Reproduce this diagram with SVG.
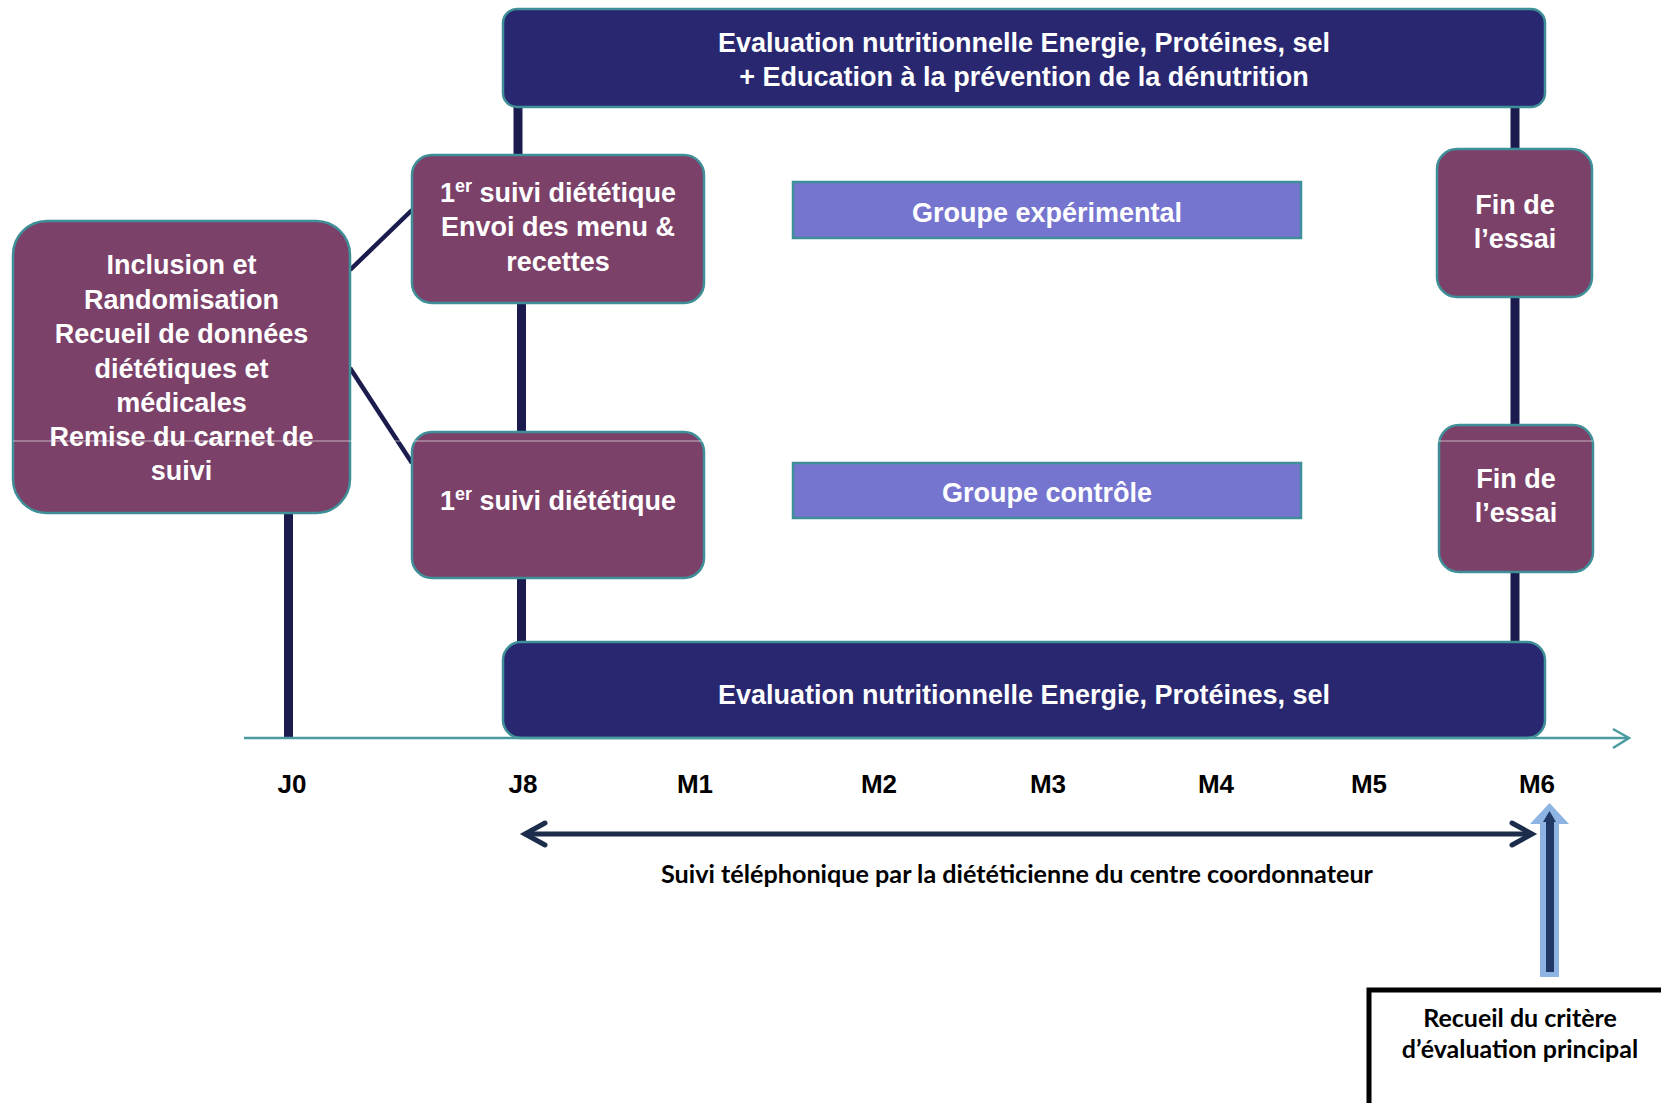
<svg xmlns="http://www.w3.org/2000/svg" width="1661" height="1103" viewBox="0 0 1661 1103">
<style>
.box{fill:#7b4169;stroke:#3f8f98;stroke-width:2.5}
.bar{fill:#282770;stroke:#3f8f98;stroke-width:2.5}
.grp{fill:#7575d0;stroke:#3f8f98;stroke-width:2.5}
.w{font-family:"Liberation Sans",Arial,sans-serif;font-weight:bold;font-size:27px;fill:#ffffff;text-anchor:middle}
.t{font-family:"Liberation Sans",Arial,sans-serif;font-weight:bold;font-size:26px;fill:#000000;text-anchor:middle}
.c{font-family:Lato,"Open Sans",sans-serif;font-weight:bold;font-size:25px;fill:#000000;text-anchor:middle}
.v{stroke:#1b1b4d;stroke-width:9;fill:none}
.d{stroke:#1b1b4d;stroke-width:4.5;fill:none}
</style>
<rect width="1661" height="1103" fill="#ffffff"/>
<g id="connectors">
  <line class="v" x1="288.5" y1="505" x2="288.5" y2="738"/>
  <line class="v" x1="518" y1="100" x2="518" y2="160"/>
  <line class="v" x1="521.5" y1="298" x2="521.5" y2="437"/>
  <line class="v" x1="521.5" y1="572" x2="521.5" y2="646"/>
  <line class="v" x1="1515" y1="100" x2="1515" y2="153"/>
  <line class="v" x1="1515" y1="292" x2="1515" y2="430"/>
  <line class="v" x1="1515" y1="566" x2="1515" y2="646"/>
  <line class="d" x1="350" y1="270" x2="412" y2="210"/>
  <line class="d" x1="350" y1="368" x2="412" y2="463"/>
</g>
<g id="bar-top">
  <rect class="bar" x="503" y="9" width="1042" height="98" rx="14"/>
  <text class="w" x="1024" y="52">Evaluation nutritionnelle Energie, Protéines, sel</text>
  <text class="w" x="1024" y="86">+ Education à la prévention de la dénutrition</text>
</g>
<g id="bar-bottom">
  <rect class="bar" x="503" y="642" width="1042" height="96" rx="18"/>
  <text class="w" x="1024" y="704">Evaluation nutritionnelle Energie, Protéines, sel</text>
</g>
<g id="axis">
  <line x1="244" y1="738" x2="1628" y2="738" stroke="#4a9aa0" stroke-width="2.5"/>
  <polyline points="1613,729 1629,738 1613,748" fill="none" stroke="#4a9aa0" stroke-width="2.5"/>
</g>
<g id="inclusion">
  <rect class="box" x="13" y="221" width="337" height="292" rx="34"/>
  <text class="w" x="181.5" y="274">Inclusion et</text>
  <text class="w" x="181.5" y="309">Randomisation</text>
  <text class="w" x="181.5" y="343">Recueil de données</text>
  <text class="w" x="181.5" y="378">diététiques et</text>
  <text class="w" x="181.5" y="412">médicales</text>
  <text class="w" x="181.5" y="446">Remise du carnet de</text>
  <text class="w" x="181.5" y="480">suivi</text>
</g>
<g id="suivi-exp">
  <rect class="box" x="412" y="155" width="292" height="148" rx="20"/>
  <text class="w" x="558" y="202">1<tspan font-size="18" dy="-10">er</tspan><tspan dy="10"> suivi diététique</tspan></text>
  <text class="w" x="558" y="236">Envoi des menu &amp;</text>
  <text class="w" x="558" y="271">recettes</text>
</g>
<g id="suivi-ctrl">
  <rect class="box" x="412" y="432" width="292" height="146" rx="20"/>
  <text class="w" x="558" y="510">1<tspan font-size="18" dy="-10">er</tspan><tspan dy="10"> suivi diététique</tspan></text>
</g>
<g id="groupe-exp">
  <rect class="grp" x="793" y="182" width="508" height="56"/>
  <text class="w" x="1047" y="222">Groupe expérimental</text>
</g>
<g id="groupe-ctrl">
  <rect class="grp" x="793" y="463" width="508" height="55"/>
  <text class="w" x="1047" y="502">Groupe contrôle</text>
</g>
<g id="fin-exp">
  <rect class="box" x="1437" y="149" width="155" height="148" rx="20"/>
  <text class="w" x="1515" y="214">Fin de</text>
  <text class="w" x="1515" y="248">l’essai</text>
</g>
<g id="fin-ctrl">
  <rect class="box" x="1439" y="425" width="154" height="147" rx="20"/>
  <text class="w" x="1516" y="488">Fin de</text>
  <text class="w" x="1516" y="522">l’essai</text>
</g>
<line x1="13" y1="441" x2="1593" y2="441" stroke="#ffffff" stroke-width="1" opacity="0.6"/>
<g id="timeline-labels">
  <text class="t" x="292" y="793">J0</text>
  <text class="t" x="523" y="793">J8</text>
  <text class="t" x="695" y="793">M1</text>
  <text class="t" x="879" y="793">M2</text>
  <text class="t" x="1048" y="793">M3</text>
  <text class="t" x="1216" y="793">M4</text>
  <text class="t" x="1369" y="793">M5</text>
  <text class="t" x="1537" y="793">M6</text>
</g>
<g id="suivi-tel">
  <line x1="525" y1="834" x2="1531" y2="834" stroke="#1c2d4c" stroke-width="5"/>
  <polyline points="545,823 525,834 545,845" fill="none" stroke="#1c2d4c" stroke-width="5" stroke-linecap="round" stroke-linejoin="miter"/>
  <polyline points="1512,823 1532,834 1512,845" fill="none" stroke="#1c2d4c" stroke-width="5" stroke-linecap="round" stroke-linejoin="miter"/>
  <text class="c" x="1017" y="883" font-size="24" textLength="712" lengthAdjust="spacingAndGlyphs">Suivi téléphonique par la diététicienne du centre coordonnateur</text>
</g>
<g id="up-arrow">
  <polygon points="1549.5,803 1569,824 1559,824 1559,977 1540,977 1540,824 1530,824" fill="#8db4e2"/>
  <polygon points="1549.5,811 1556,822 1554,822 1554,972 1546,972 1546,822 1543,822" fill="#1f3864"/>
</g>
<g id="recueil">
  <rect x="1369" y="990" width="400" height="200" fill="#ffffff" stroke="#000000" stroke-width="5"/>
  <text class="c" x="1520" y="1027">Recueil du critère</text>
  <text class="c" x="1520" y="1058">d’évaluation principal</text>
</g>
</svg>
